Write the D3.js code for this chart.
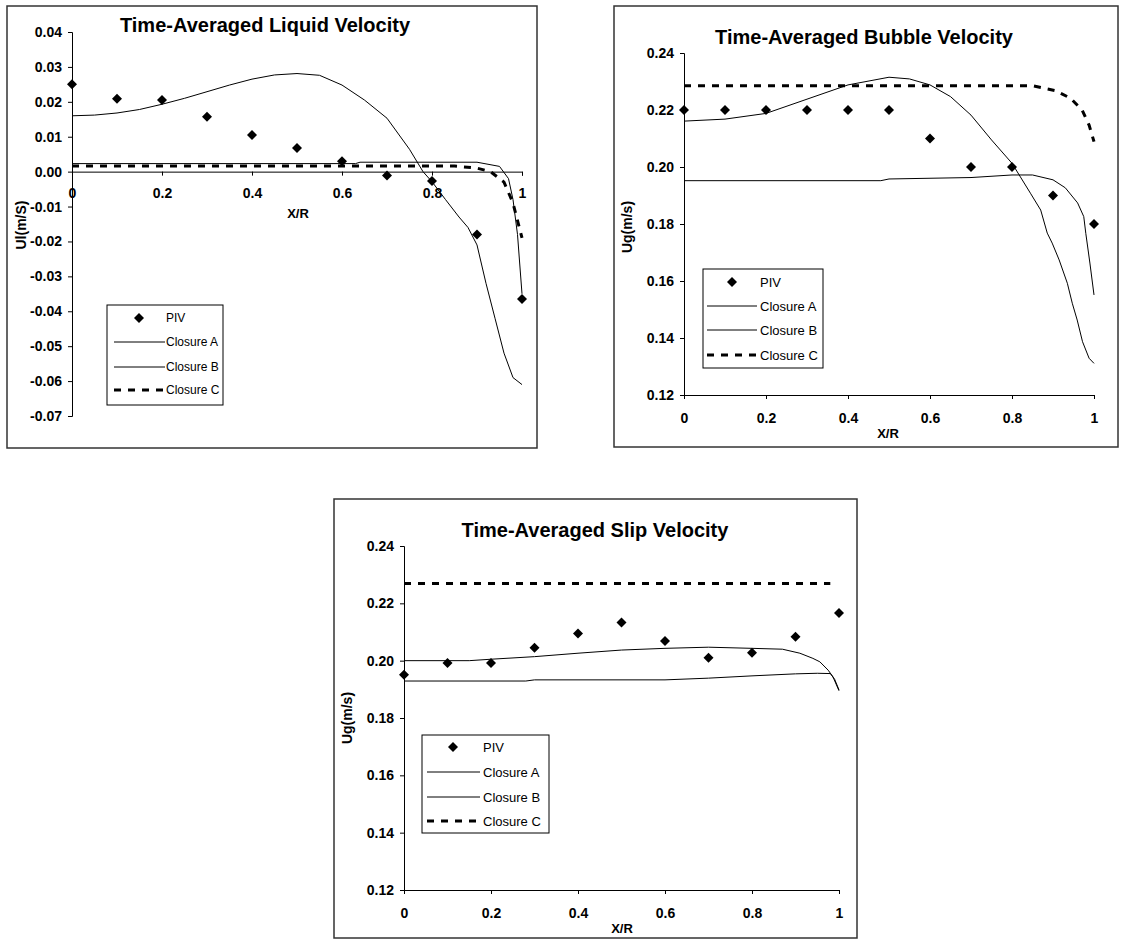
<!DOCTYPE html>
<html>
<head>
<meta charset="utf-8">
<script src="https://cdn.jsdelivr.net/npm/d3@7"></script>
<style>
  body { margin: 0; background: #fff; }
  svg text { font-family: 'Liberation Sans', Arial, sans-serif; }
</style>
</head>
<body>
<div id="chart"></div>
<script>
// ---- data ----
const xTicks = [0, 0.2, 0.4, 0.6, 0.8, 1];
const xTickLabels = ['0', '0.2', '0.4', '0.6', '0.8', '1'];
const pivX = [0, 0.1, 0.2, 0.3, 0.4, 0.5, 0.6, 0.7, 0.8, 0.9, 1.0];
const legendNames = ['PIV', 'Closure A', 'Closure B', 'Closure C'];

// liquid velocity
const liquidTicks = [0.04, 0.03, 0.02, 0.01, 0, -0.01, -0.02, -0.03, -0.04, -0.05, -0.06, -0.07];
const liquidPIV = [0.025, 0.0209, 0.0205, 0.0157, 0.0105, 0.0068, 0.003, -0.0011, -0.0027, -0.018, -0.0365];
const liquidAx = [0, 0.05, 0.1, 0.15, 0.2, 0.25, 0.3, 0.35, 0.4, 0.45, 0.5, 0.55, 0.6, 0.65, 0.7, 0.75, 0.78, 0.8, 0.83, 0.86, 0.88, 0.9, 0.92, 0.94, 0.96, 0.98, 1.0];
const liquidA = [0.016, 0.0162, 0.0168, 0.0178, 0.0193, 0.021, 0.0229, 0.0248, 0.0265, 0.0277, 0.0281, 0.0276, 0.0248, 0.0205, 0.0153, 0.0064, 0.0, -0.0029, -0.008, -0.013, -0.016, -0.021, -0.032, -0.042, -0.052, -0.059, -0.061];
const liquidBx = [0, 0.63, 0.64, 0.9, 0.95, 0.97, 0.98, 0.99, 1.0];
const liquidB = [0.0023, 0.0023, 0.0027, 0.0027, 0.0015, -0.002, -0.008, -0.018, -0.035];
const liquidCx = [0, 0.85, 0.9, 0.93, 0.96, 0.98, 1.0];
const liquidC = [0.0016, 0.0016, 0.001, 0.0, -0.003, -0.009, -0.019];

// bubble velocity
const ugTicks = [0.12, 0.14, 0.16, 0.18, 0.20, 0.22, 0.24];
const bubblePIV = [0.22, 0.22, 0.22, 0.22, 0.22, 0.22, 0.21, 0.20, 0.20, 0.19, 0.18];
const bubbleAx = [0, 0.1, 0.2, 0.3, 0.4, 0.5, 0.55, 0.6, 0.65, 0.7, 0.75, 0.8, 0.845, 0.87, 0.886, 0.898, 0.915, 0.935, 0.947, 0.959, 0.972, 0.988, 1.0];
const bubbleA = [0.2161, 0.2168, 0.2188, 0.2238, 0.2288, 0.2315, 0.2309, 0.2288, 0.2247, 0.2182, 0.2095, 0.2013, 0.1908, 0.1849, 0.1768, 0.1733, 0.1674, 0.1592, 0.1522, 0.1463, 0.1387, 0.1329, 0.1311];
const bubbleBx = [0, 0.48, 0.5, 0.7, 0.8, 0.85, 0.9, 0.93, 0.96, 0.975, 0.98, 0.99, 1.0];
const bubbleB = [0.1952, 0.1952, 0.1958, 0.1963, 0.1972, 0.1972, 0.1955, 0.1927, 0.1874, 0.1826, 0.1767, 0.1663, 0.1551];
const bubbleCx = [0, 0.85, 0.906, 0.943, 0.971, 0.988, 1.0];
const bubbleC = [0.2285, 0.2285, 0.2268, 0.2241, 0.22, 0.2147, 0.2089];

// slip velocity
const slipPIV = [0.1951, 0.1992, 0.1992, 0.2045, 0.2095, 0.2133, 0.2069, 0.201, 0.2028, 0.2083, 0.2166];
const slipAx = [0, 0.15, 0.2, 0.3, 0.4, 0.5, 0.6, 0.7, 0.8, 0.87, 0.91, 0.94, 0.956, 0.975, 0.986, 1.0];
const slipA = [0.2, 0.2, 0.2005, 0.2014, 0.2026, 0.2037, 0.2043, 0.2047, 0.2043, 0.204, 0.2026, 0.2008, 0.1996, 0.1967, 0.1944, 0.1895];
const slipBx = [0, 0.28, 0.3, 0.6, 0.7, 0.8, 0.9, 0.95, 0.98, 0.99, 1.0];
const slipB = [0.1929, 0.1929, 0.1933, 0.1933, 0.1939, 0.1947, 0.1954, 0.1956, 0.1955, 0.1935, 0.1898];
const slipCx = [0, 0.98];
const slipC = [0.2269, 0.2269];

// ---- layout ----
const svg = d3.select('#chart').append('svg')
  .attr('width', 1132).attr('height', 940);

const diamond = 'M0,-5L5,0L0,5L-5,0Z';

function drawPanel(p) {
  const g = svg.append('g');
  g.append('rect')
    .attr('x', p.frame[0]).attr('y', p.frame[1])
    .attr('width', p.frame[2]).attr('height', p.frame[3])
    .attr('fill', '#fff').attr('stroke', '#333').attr('stroke-width', 1.5);

  const x = d3.scaleLinear().domain([0, 1]).range(p.xr);
  const y = d3.scaleLinear().domain(p.yd).range(p.yr);

  // axes
  const xa = g.append('g')
    .attr('transform', 'translate(0,' + y(p.xAxisAt) + ')')
    .call(d3.axisBottom(x).tickValues(xTicks).tickSize(4).tickPadding(p.xPad)
      .tickFormat((d, i) => xTickLabels[i]));
  const ya = g.append('g')
    .attr('transform', 'translate(' + x(0) + ',0)')
    .call(d3.axisLeft(y).tickValues(p.yTicks).tickSize(4).tickPadding(6)
      .tickFormat(d => d.toFixed(2)));
  [xa, ya].forEach(a => {
    a.select('.domain').attr('stroke', '#000').attr('stroke-width', 1);
    a.selectAll('.tick line').attr('stroke', '#000');
    a.selectAll('text').attr('font-size', 14).attr('font-weight', 'bold').attr('fill', '#000')
      .style('font-family', "'Liberation Sans', Arial, sans-serif");
  });

  // titles
  g.append('text').attr('x', p.title[0]).attr('y', p.title[1])
    .attr('text-anchor', 'middle').attr('font-size', 20).attr('font-weight', 'bold')
    .text(p.titleText);
  g.append('text').attr('x', p.xlab[0]).attr('y', p.xlab[1])
    .attr('text-anchor', 'middle').attr('font-size', 13).attr('font-weight', 'bold')
    .text('X/R');
  g.append('text')
    .attr('transform', 'translate(' + p.ylab[0] + ',' + p.ylab[1] + ') rotate(-90)')
    .attr('text-anchor', 'middle').attr('dy', '0.35em')
    .attr('font-size', 14).attr('font-weight', 'bold')
    .text(p.ylabText);

  // series
  const line = d3.line().x(d => x(d[0])).y(d => y(d[1]));
  const pairs = (xs, ys) => xs.map((v, i) => [v, ys[i]]);
  g.append('path').datum(pairs(p.bx, p.b)).attr('d', line)
    .attr('fill', 'none').attr('stroke', '#000').attr('stroke-width', 1);
  g.append('path').datum(pairs(p.ax, p.a)).attr('d', line)
    .attr('fill', 'none').attr('stroke', '#000').attr('stroke-width', 1);
  g.append('path').datum(pairs(p.cx, p.c)).attr('d', line)
    .attr('fill', 'none').attr('stroke', '#000').attr('stroke-width', 3)
    .attr('stroke-dasharray', '7,7');
  g.selectAll('.piv').data(pairs(pivX, p.piv)).enter().append('path')
    .attr('d', diamond)
    .attr('transform', d => 'translate(' + x(d[0]) + ',' + y(d[1]) + ')')
    .attr('fill', '#000');

  // legend
  const L = p.legend;
  const lg = g.append('g');
  lg.append('rect').attr('x', L.x).attr('y', L.y).attr('width', L.w).attr('height', L.h)
    .attr('fill', '#fff').attr('stroke', '#000').attr('stroke-width', 1);
  legendNames.forEach((name, i) => {
    const yy = L.rows[i];
    if (i === 0) {
      lg.append('path').attr('d', diamond)
        .attr('transform', 'translate(' + L.dx + ',' + yy + ')').attr('fill', '#000');
    } else {
      lg.append('line').attr('x1', L.l1).attr('x2', L.l2).attr('y1', yy).attr('y2', yy)
        .attr('stroke', '#000').attr('stroke-width', i === 3 ? 3 : 1)
        .attr('stroke-dasharray', i === 3 ? '7,7' : null);
    }
    lg.append('text').attr('x', L.tx).attr('y', yy).attr('dy', '0.35em')
      .attr('font-size', L.fs).text(name);
  });
}

drawPanel({
  frame: [7, 6, 530, 442], xr: [72, 522], yd: [-0.07, 0.04], yr: [416, 32],
  xAxisAt: 0, xPad: 12, yTicks: liquidTicks,
  title: [265, 32], titleText: 'Time-Averaged Liquid Velocity',
  xlab: [298, 218], ylab: [21, 225], ylabText: 'Ul(m/S)',
  piv: liquidPIV, ax: liquidAx, a: liquidA, bx: liquidBx, b: liquidB, cx: liquidCx, c: liquidC,
  legend: { x: 107, y: 305, w: 116, h: 100, rows: [318, 342, 367, 390], dx: 139, l1: 114, l2: 165, tx: 166, fs: 12 }
});

drawPanel({
  frame: [614, 6, 504, 441], xr: [684, 1094], yd: [0.12, 0.24], yr: [395, 53],
  xAxisAt: 0.12, xPad: 14, yTicks: ugTicks,
  title: [864, 44], titleText: 'Time-Averaged Bubble Velocity',
  xlab: [888, 438], ylab: [627, 227], ylabText: 'Ug(m/s)',
  piv: bubblePIV, ax: bubbleAx, a: bubbleA, bx: bubbleBx, b: bubbleB, cx: bubbleCx, c: bubbleC,
  legend: { x: 703, y: 269, w: 120, h: 99, rows: [282, 306, 330, 355], dx: 732, l1: 707, l2: 757, tx: 760, fs: 13 }
});

drawPanel({
  frame: [334, 499, 523, 439], xr: [404, 839], yd: [0.12, 0.24], yr: [890, 546],
  xAxisAt: 0.12, xPad: 14, yTicks: ugTicks,
  title: [595, 537], titleText: 'Time-Averaged Slip Velocity',
  xlab: [622, 933], ylab: [347, 718], ylabText: 'Ug(m/s)',
  piv: slipPIV, ax: slipAx, a: slipA, bx: slipBx, b: slipB, cx: slipCx, c: slipC,
  legend: { x: 422, y: 735, w: 127, h: 98, rows: [747, 772, 797, 821], dx: 453, l1: 427, l2: 480, tx: 483, fs: 13 }
});
</script>
</body>
</html>
